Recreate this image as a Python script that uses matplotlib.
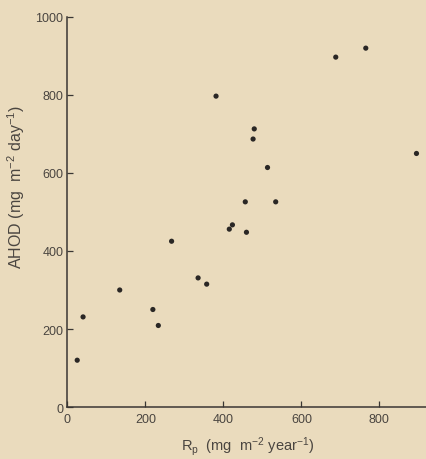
import matplotlib
matplotlib.use("Agg")
import matplotlib.pyplot as plt

rp = [25, 40, 134, 219, 233, 267, 335, 357, 381, 415, 423, 459, 456, 476, 479, 513, 534, 688, 765, 895]
ahod = [120, 231, 300, 250, 209, 425, 331, 315, 797, 456, 467, 448, 526, 687, 713, 614, 526, 897, 920, 650]
xticks = [0, 200, 400, 600, 800]
yticks = [0, 200, 400, 600, 800, 1000]

bg = "#eadbbd"
ink = "#3a3633"
plt.rcParams['font.family'] = ['Liberation Sans', 'DejaVu Sans']
plt.rcParams['mathtext.fontset'] = 'custom'
plt.rcParams['mathtext.rm'] = 'Liberation Sans'
plt.rcParams['mathtext.it'] = 'Liberation Sans'

fig = plt.figure(figsize=(4.27, 4.60), dpi=100, facecolor=bg)
ax = fig.add_axes([0.158, 0.113, 0.842, 0.848], facecolor=bg)
ax.scatter(rp, ahod, s=14, color="#2a2725", edgecolors="none", zorder=3, clip_on=False)

ax.set_xlim(0, 922)
ax.set_ylim(0, 1000)
ax.set_xticks(xticks)
ax.set_yticks(yticks)
for s in ["top", "right"]:
    ax.spines[s].set_visible(False)
for s in ["left", "bottom"]:
    ax.spines[s].set_color(ink)
    ax.spines[s].set_linewidth(1.1)
ax.tick_params(axis="both", direction="in", length=4, width=0.9, color=ink,
               labelcolor="#4a4540", labelsize=9, pad=4)
ax.tick_params(axis="y", pad=3)

ax.set_ylabel("AHOD (mg  m$^{-2}$ day$^{-1}$)", fontsize=11.5, color="#4a4540")
ax.yaxis.set_label_coords(-0.113, 0.567)
ax.set_xlabel("R$_{\\rm p}$  (mg  m$^{-2}$ year$^{-1}$)", fontsize=10.5, color="#4a4540")
ax.xaxis.set_label_coords(0.502, -0.07)

fig.savefig("out.png", dpi=100, facecolor=bg)
